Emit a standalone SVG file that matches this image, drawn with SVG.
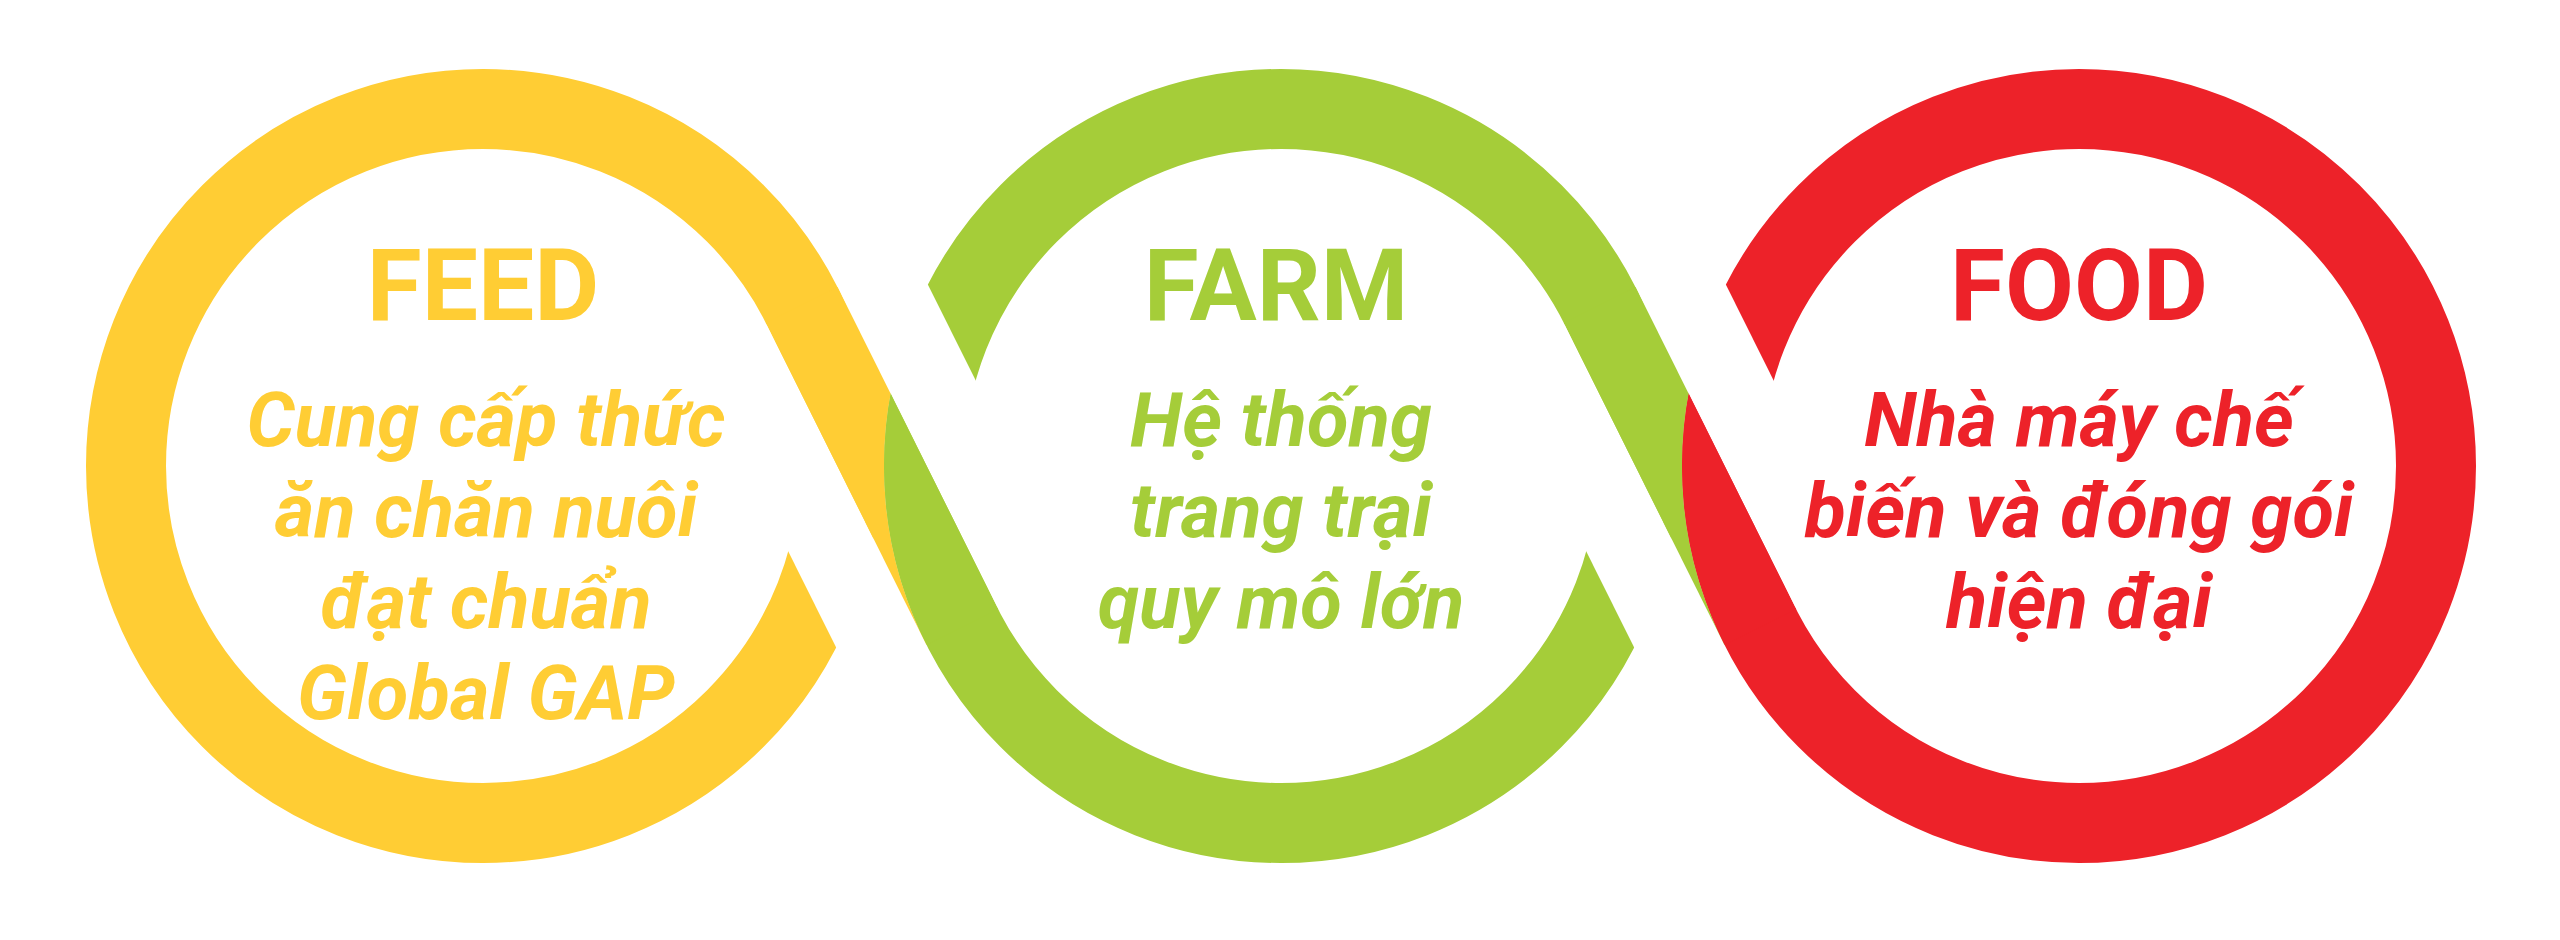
<svg xmlns="http://www.w3.org/2000/svg" width="2560" height="940" viewBox="0 0 2560 940">
<style>
circle.ring{fill:none;stroke-width:80}
circle.y{stroke:#FFCD34}
circle.g{stroke:#A5CD39}
circle.r{stroke:#ED2229}
.fy{fill:#FFCD34}
.fg{fill:#A5CD39}
.fr{fill:#ED2229}
.title{font-family:Roboto,"Liberation Sans",sans-serif;font-weight:700;font-size:100px;text-anchor:middle}
.body{font-family:Roboto,"Liberation Sans",sans-serif;font-weight:700;font-style:italic;font-size:76px;text-anchor:middle}
</style>
<defs>
<mask id="mY" maskUnits="userSpaceOnUse" x="0" y="0" width="2560" height="940">
<rect x="0" y="0" width="2560" height="940" fill="#fff"/>
<rect transform="translate(882 466) rotate(63.5)" x="-178.2" y="40" width="440" height="82" fill="#000"/>
</mask>
<mask id="mG" maskUnits="userSpaceOnUse" x="0" y="0" width="2560" height="940">
<rect x="0" y="0" width="2560" height="940" fill="#fff"/>
<rect transform="translate(882 466) rotate(63.5)" x="-460" y="-122" width="638.2" height="82" fill="#000"/>
<rect transform="translate(1680 466) rotate(63.5)" x="-178.2" y="40" width="440" height="82" fill="#000"/>
</mask>
<mask id="mR" maskUnits="userSpaceOnUse" x="0" y="0" width="2560" height="940">
<rect x="0" y="0" width="2560" height="940" fill="#fff"/>
<rect transform="translate(1680 466) rotate(63.5)" x="-460" y="-122" width="638.2" height="82" fill="#000"/>
</mask>
<mask id="outG" maskUnits="userSpaceOnUse" x="0" y="0" width="2560" height="940">
<rect x="0" y="0" width="2560" height="940" fill="#fff"/>
<circle cx="1281" cy="466" r="397" fill="#000"/>
</mask>
<mask id="outR" maskUnits="userSpaceOnUse" x="0" y="0" width="2560" height="940">
<rect x="0" y="0" width="2560" height="940" fill="#fff"/>
<circle cx="2079" cy="466" r="397" fill="#000"/>
</mask>
<clipPath id="cG"><circle cx="1281" cy="466" r="397"/></clipPath>
<clipPath id="cR"><circle cx="2079" cy="466" r="397"/></clipPath>
</defs>
<rect width="2560" height="940" fill="#fff"/>
<g id="rings">
<circle class="ring y" cx="483" cy="466" r="357" mask="url(#mY)"/>
<circle class="ring g" cx="1281" cy="466" r="357" mask="url(#mG)"/>
<circle class="ring r" cx="2079" cy="466" r="357" mask="url(#mR)"/>
</g>
<g id="connectors">
<g mask="url(#outG)"><rect class="fy" transform="translate(882 466) rotate(63.5)" x="-180" y="-40" width="360" height="80"/></g>
<g clip-path="url(#cG)"><rect class="fg" transform="translate(882 466) rotate(63.5)" x="-180" y="-40" width="360" height="80"/></g>
<g mask="url(#outR)"><rect class="fg" transform="translate(1680 466) rotate(63.5)" x="-180" y="-40" width="360" height="80"/></g>
<g clip-path="url(#cR)"><rect class="fr" transform="translate(1680 466) rotate(63.5)" x="-180" y="-40" width="360" height="80"/></g>
</g>
<g id="feed">
<text class="title fy" x="483" y="320">FEED</text>
<text class="body fy" x="486" y="446">Cung cấp thức</text>
<text class="body fy" x="486" y="537">ăn chăn nuôi</text>
<text class="body fy" x="486" y="628">đạt chuẩn</text>
<text class="body fy" x="486" y="719">Global GAP</text>
</g>
<g id="farm">
<text class="title fg" x="1276" y="320">FARM</text>
<text class="body fg" x="1281" y="446">Hệ thống</text>
<text class="body fg" x="1281" y="537">trang trại</text>
<text class="body fg" x="1281" y="628">quy mô lớn</text>
</g>
<g id="food">
<text class="title fr" x="2079" y="320">FOOD</text>
<text class="body fr" x="2079" y="446">Nhà máy chế</text>
<text class="body fr" x="2079" y="537">biến và đóng gói</text>
<text class="body fr" x="2079" y="628">hiện đại</text>
</g>
</svg>
